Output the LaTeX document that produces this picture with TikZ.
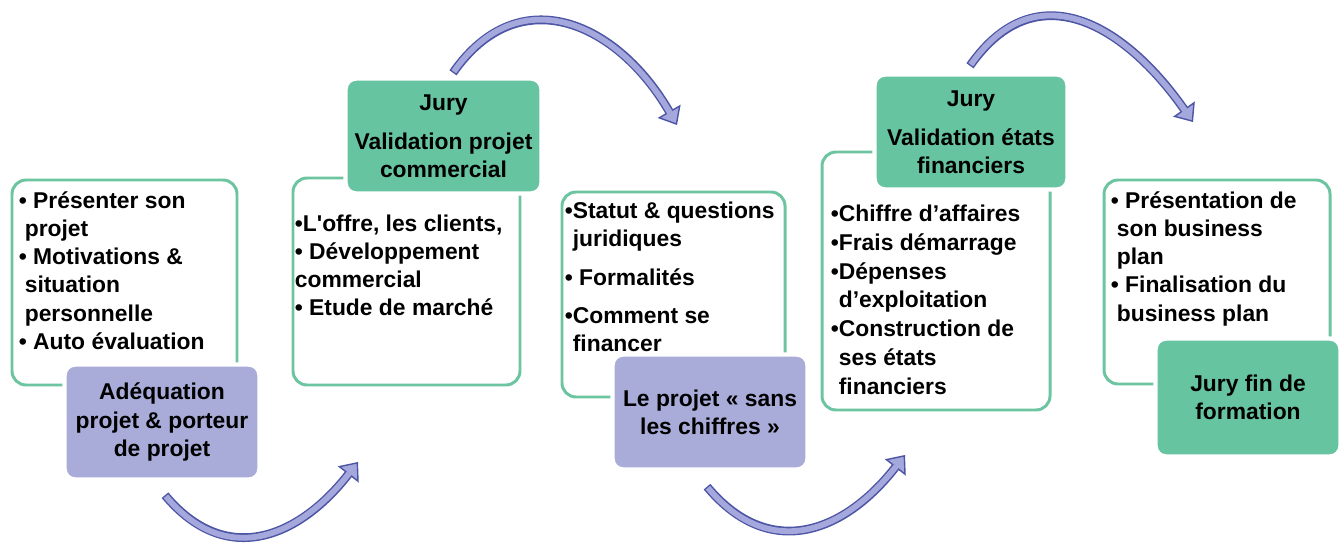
\documentclass[tikz,border=0pt]{standalone}
\usepackage{fontspec}
\setmainfont{Liberation Sans}
\usetikzlibrary{arrows.meta}

\definecolor{panelgreen}{HTML}{6CC5A0}
\definecolor{juryfill}{HTML}{66C4A1}
\definecolor{lilac}{HTML}{A9ACD9}
\definecolor{arrowline}{HTML}{4D55A5}
\definecolor{arrowfill}{HTML}{A5A8DC}

\tikzset{
  panel/.style={draw=panelgreen, line width=1.7pt, rounded corners=8pt, fill=white, inner sep=0pt},
  jurybox/.style={draw=white, line width=2.5pt, fill=juryfill, rounded corners=6pt, align=center, inner sep=0pt},
  lilacbox/.style={draw=white, line width=2.5pt, fill=lilac, rounded corners=6pt, align=center, inner sep=0pt},
  listtext/.style={anchor=north west, align=left, inner sep=0pt},
  bandout/.style={draw=arrowline, line width=5pt, -{Triangle[width=15pt,length=9pt,fill=arrowfill,line width=0.8pt]}},
  bandin/.style={draw=arrowfill, line width=3.3pt, shorten >=8pt, shorten <=0.8pt}
}

\begin{document}
\begin{tikzpicture}[font=\fontsize{13}{16}\selectfont\bfseries]
\useasboundingbox (0,0) rectangle (26.78,10.9);

% Stage panels
\node[panel, minimum width=4.5cm, minimum height=4.1cm] (presenter) at (2.49,5.25) {};
\node[panel, minimum width=4.54cm, minimum height=4.14cm] (offre) at (8.13,5.27) {};
\node[panel, minimum width=4.46cm, minimum height=4.1cm] (statut) at (13.47,5.01) {};
\node[panel, minimum width=4.56cm, minimum height=5.16cm] (chiffres) at (18.72,5.28) {};
\node[panel, minimum width=4.52cm, minimum height=4.08cm] (business) at (24.34,5.26) {};

% Panel texts
\node[listtext] (presentertext) at ([shift={(0.16,-0.26)}]presenter.north west)
  {• Présenter son\\\hspace*{3.4pt}projet\\• Motivations \&\\\hspace*{3.4pt}situation\\\hspace*{3.4pt}personnelle\\• Auto évaluation};
\node[listtext] (offretext) at ([shift={(0.06,-0.76)}]offre.north west)
  {•L\textquotesingle offre, les clients,\\• Développement\\commercial\\• Etude de marché};
\node[listtext] (statuttext) at ([shift={(0.08,-0.22)}]statut.north west)
  {•Statut \& questions\\\phantom{•}juridiques\\[6pt]• Formalités\\[6pt]•Comment se\\\phantom{•}financer};
\node[listtext, font=\fontsize{13}{16.4}\selectfont\bfseries] (chiffrestext) at ([shift={(0.2,-1.08)}]chiffres.north west)
  {•Chiffre d’affaires\\•Frais démarrage\\•Dépenses\\\phantom{•}d’exploitation\\•Construction de\\\phantom{•}ses états\\\phantom{•}financiers};
\node[listtext] (businesstext) at ([shift={(0.16,-0.26)}]business.north west)
  {• Présentation de\\\hspace*{3.4pt}son business\\\hspace*{3.4pt}plan\\• Finalisation du\\\hspace*{3.4pt}business plan};

% Stage boxes
\node[lilacbox, minimum width=3.9cm, minimum height=2.3cm] (adequation) at (3.24,2.46) {Adéquation\\projet \& porteur\\de projet};
\node[jurybox, minimum width=3.92cm, minimum height=2.3cm] (jurycom) at (8.87,8.18) {Jury\\[6pt]Validation projet\\commercial};
\node[lilacbox, minimum width=3.9cm, minimum height=2.3cm] (sanschiffres) at (14.2,2.66) {Le projet « sans\\les chiffres »};
\node[jurybox, minimum width=3.86cm, minimum height=2.3cm] (juryfin) at (19.42,8.26) {Jury\\[6pt]Validation états\\financiers};
\node[jurybox, minimum width=3.7cm, minimum height=2.36cm] (juryformation) at (24.96,2.95) {Jury fin de\\formation};

% Arrow ends
\coordinate (adequationout) at ([shift={(0.06,-0.27)}]adequation.south);
\coordinate (offrein) at (7.16,1.66);
\coordinate (jurycomout) at ([shift={(0.19,0.07)}]jurycom.north);
\coordinate (statutin) at (13.54,8.4);
\coordinate (sanschiffresout) at ([shift={(-0.06,-0.3)}]sanschiffres.south);
\coordinate (chiffresin) at (18.1,1.8);
\coordinate (juryfinout) at ([shift={(-0.02,0.13)}]juryfin.north);
\coordinate (businessin) at (23.86,8.46);

% Flow arrows
\draw[bandout] (adequationout) to[out=-50,in=-128,looseness=1.25] (offrein);
\draw[bandin] (adequationout) to[out=-50,in=-128,looseness=1.25] (offrein);
\draw[bandout] (jurycomout) to[out=55,in=120,looseness=1.3] (statutin);
\draw[bandin] (jurycomout) to[out=55,in=120,looseness=1.3] (statutin);
\draw[bandout] (sanschiffresout) to[out=-50,in=-128,looseness=1.25] (chiffresin);
\draw[bandin] (sanschiffresout) to[out=-50,in=-128,looseness=1.25] (chiffresin);
\draw[bandout] (juryfinout) to[out=55,in=125,looseness=1.3] (businessin);
\draw[bandin] (juryfinout) to[out=55,in=125,looseness=1.3] (businessin);

\end{tikzpicture}
\end{document}
